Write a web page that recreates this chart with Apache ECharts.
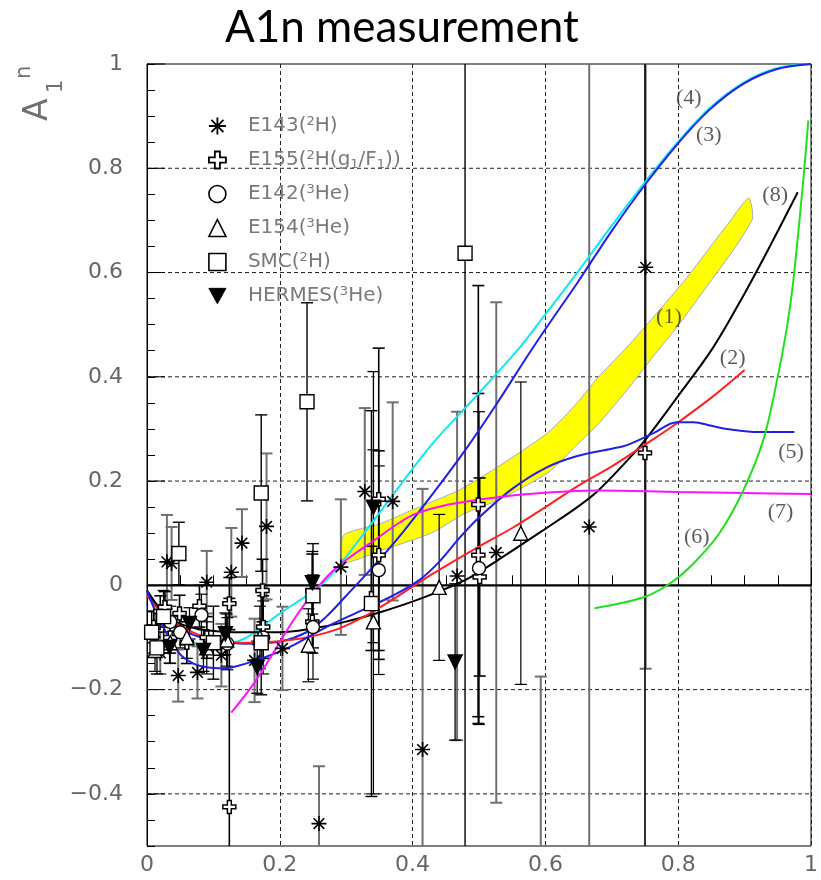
<!DOCTYPE html>
<html><head><meta charset="utf-8">
<script src="https://cdn.jsdelivr.net/npm/echarts@6/dist/echarts.min.js"></script>
<style>html,body{margin:0;padding:0;background:#fff}#c{width:821px;height:880px}</style>
</head><body><div id="c"></div>
<script>
// ---------- data ----------
const yLabelValues = [-0.4, -0.2, 0, 0.2, 0.4, 0.6, 0.8, 1];
const yGridValues = [-0.4, -0.2, 0.2, 0.4, 0.6, 0.8];

// [x, A1n, error]
const e143 = [[0.012,-0.09,0.04],[0.02,-0.13,0.04],[0.03,0.045,0.09],[0.037,0.042,0.07],[0.047,-0.173,0.05],[0.076,-0.167,0.05],[0.09,0.006,0.06],[0.112,-0.134,0.06],[0.127,0.025,0.085],[0.143,0.081,0.065],[0.162,-0.144,0.08],[0.18,0.113,0.14],[0.204,-0.121,0.08],[0.259,-0.457,0.11],[0.292,0.035,0.13],[0.328,0.18,0.16],[0.37,0.161,0.19],[0.415,-0.315,0.5],[0.467,0.018,0.315],[0.526,0.063,0.48],[0.593,-0.95,0.775],[0.666,0.112,0.9],[0.751,0.61,0.77]];
const e155 = [[0.01,-0.08,0.03],[0.02,-0.05,0.03],[0.027,-0.042,0.03],[0.035,-0.1,0.03],[0.049,-0.054,0.035],[0.06,-0.11,0.04],[0.079,-0.04,0.04],[0.09,-0.1,0.04],[0.124,-0.035,0.05],[0.124,-0.425,0.4],[0.174,-0.01,0.06],[0.175,-0.08,0.06],[0.249,-0.01,0.07],[0.249,-0.07,0.06],[0.338,-0.025,0.1],[0.349,0.058,0.2],[0.349,0.165,0.29],[0.499,0.155,0.42],[0.499,0.058,0.31],[0.501,0.016,0.19],[0.75,0.254,1.2]];
const e142 = [[0.035,-0.07,0.03],[0.05,-0.09,0.03],[0.082,-0.057,0.04],[0.121,-0.112,0.05],[0.175,-0.1,0.07],[0.25,-0.08,0.1],[0.349,0.029,0.2],[0.5,0.033,0.3]];
const e154 = [[0.012,-0.125,0.04],[0.035,-0.11,0.04],[0.06,-0.1,0.04],[0.09,-0.12,0.05],[0.12,-0.105,0.05],[0.17,-0.1,0.06],[0.243,-0.115,0.07],[0.341,-0.07,0.33],[0.44,-0.004,0.14],[0.563,0.1,0.29]];
const smc = [[0.007,-0.09,0.04],[0.015,-0.12,0.05],[0.025,-0.06,0.05],[0.048,0.061,0.06],[0.1,-0.11,0.07],[0.172,0.177,0.15],[0.172,-0.11,0.1],[0.241,0.352,0.19],[0.25,-0.02,0.1],[0.338,-0.035,0.37],[0.479,0.637,1.2]];
const hermes = [[0.034,-0.119,0.03],[0.064,-0.073,0.03],[0.085,-0.125,0.04],[0.118,-0.093,0.04],[0.166,-0.157,0.05],[0.249,0.005,0.06],[0.341,0.15,0.26],[0.464,-0.147,0.15]];

// model curves [x, A1n]
const band1Upper = [[0.296,0.096],[0.353,0.119],[0.40,0.145],[0.469,0.182],[0.528,0.227],[0.603,0.292],[0.648,0.35],[0.678,0.397],[0.723,0.457],[0.763,0.515],[0.813,0.59],[0.847,0.647],[0.873,0.69],[0.906,0.743]];
const band1Lower = [[0.296,0.044],[0.353,0.067],[0.428,0.10],[0.479,0.138],[0.528,0.163],[0.603,0.215],[0.648,0.27],[0.678,0.307],[0.72,0.37],[0.763,0.44],[0.798,0.495],[0.847,0.58],[0.883,0.643],[0.912,0.704]];
const curve2 = [[0,-0.02],[0.02,-0.05],[0.04,-0.07],[0.065,-0.088],[0.09,-0.1],[0.14,-0.11],[0.19,-0.108],[0.24,-0.1],[0.289,-0.083],[0.33,-0.058],[0.369,-0.028],[0.43,0.022],[0.498,0.073],[0.55,0.11],[0.6,0.15],[0.648,0.19],[0.7,0.228],[0.748,0.268],[0.798,0.311],[0.85,0.36],[0.9,0.413]];
const curve3 = [[0,-0.01],[0.02,-0.05],[0.04,-0.075],[0.07,-0.095],[0.1,-0.106],[0.15,-0.112],[0.2,-0.108],[0.24,-0.09],[0.27,-0.06],[0.3,-0.02],[0.34,0.035],[0.379,0.092],[0.43,0.175],[0.479,0.259],[0.525,0.345],[0.573,0.44],[0.61,0.51],[0.648,0.58],[0.7,0.68],[0.748,0.765],[0.798,0.845],[0.847,0.912],[0.898,0.962],[0.948,0.99],[1.0,1.0]];
const curve4 = [[0,-0.01],[0.02,-0.05],[0.04,-0.08],[0.065,-0.105],[0.09,-0.118],[0.11,-0.118],[0.129,-0.111],[0.15,-0.1],[0.175,-0.078],[0.2,-0.054],[0.24,-0.02],[0.27,0.01],[0.3,0.055],[0.33,0.105],[0.38,0.19],[0.43,0.272],[0.49,0.355],[0.558,0.451],[0.6,0.52],[0.648,0.6],[0.7,0.69],[0.748,0.77],[0.798,0.848],[0.847,0.915],[0.898,0.964],[0.948,0.992],[1.0,1.0]];
const curve5 = [[0,-0.01],[0.019,-0.067],[0.049,-0.131],[0.07,-0.15],[0.09,-0.157],[0.11,-0.159],[0.129,-0.157],[0.164,-0.144],[0.214,-0.119],[0.27,-0.08],[0.32,-0.05],[0.37,-0.02],[0.41,0.01],[0.44,0.045],[0.47,0.09],[0.5,0.13],[0.55,0.185],[0.6,0.225],[0.648,0.248],[0.7,0.262],[0.723,0.269],[0.763,0.292],[0.798,0.313],[0.823,0.313],[0.85,0.306],[0.873,0.3],[0.922,0.294],[0.975,0.294]];
const curve6 = [[0.674,-0.044],[0.748,-0.023],[0.788,0.004],[0.823,0.042],[0.862,0.1],[0.898,0.182],[0.928,0.278],[0.948,0.388],[0.963,0.489],[0.973,0.58],[0.988,0.772],[0.996,0.892]];
const curve7 = [[0.127,-0.244],[0.16,-0.19],[0.19,-0.13],[0.22,-0.068],[0.25,-0.015],[0.28,0.028],[0.31,0.058],[0.344,0.088],[0.38,0.12],[0.404,0.137],[0.454,0.155],[0.528,0.169],[0.603,0.178],[0.678,0.182],[0.8,0.179],[0.9,0.177],[1.0,0.175]];
const curve8 = [[0,-0.01],[0.02,-0.045],[0.039,-0.067],[0.065,-0.08],[0.09,-0.086],[0.14,-0.09],[0.2,-0.09],[0.249,-0.083],[0.289,-0.073],[0.35,-0.052],[0.413,-0.025],[0.479,0.01],[0.528,0.048],[0.603,0.111],[0.648,0.15],[0.678,0.18],[0.72,0.235],[0.748,0.275],[0.798,0.36],[0.853,0.457],[0.9,0.56],[0.94,0.655],[0.98,0.754]];
const curveLabels = [[0.816,0.935,'(4)'],[0.846,0.864,'(3)'],[0.946,0.749,'(8)'],[0.786,0.514,'(1)'],[0.882,0.436,'(2)'],[0.97,0.255,'(5)'],[0.954,0.14,'(7)'],[0.828,0.092,'(6)']];

// ---------- helpers ----------
const SYM = {
  star: 'path://M10,0L10,20M0,10L20,10M2.9,2.9L17.1,17.1M2.9,17.1L17.1,2.9',
  cross: 'path://M7,0H13V7H20V13H13V20H7V13H0V7H7Z',
  down: 'path://M0,0L20,0L10,18Z'
};
function barSeries(rows, color, width) {
  return {
    type: 'custom', silent: true, clip: true, z: 3,
    data: rows.map(r => [r[0], r[1], r[2]]),
    encode: { x: 0, y: 1 },
    renderItem(params, api) {
      const x = api.value(0), y = api.value(1), e = api.value(2);
      const t = api.coord([x, y + e]), b = api.coord([x, y - e]);
      const c = 6, st = { stroke: color, lineWidth: width };
      return { type: 'group', children: [
        { type: 'line', shape: { x1: t[0], y1: t[1], x2: b[0], y2: b[1] }, style: st },
        { type: 'line', shape: { x1: t[0] - c, y1: t[1], x2: t[0] + c, y2: t[1] }, style: st },
        { type: 'line', shape: { x1: b[0] - c, y1: b[1], x2: b[0] + c, y2: b[1] }, style: st }
      ]};
    }
  };
}
function pointSeries(name, rows, symbol, size, fill, bw) {
  return {
    name, type: 'scatter', z: 6, symbol, symbolSize: size, clip: true,
    data: rows.map(r => [r[0], r[1]]),
    itemStyle: { color: fill, borderColor: '#000', borderWidth: bw || 1.4, opacity: 1 },
    emphasis: { disabled: true }
  };
}
function curve(data, color, width) {
  return { type: 'line', data, smooth: 0.35, showSymbol: false, symbol: 'none', z: 5, silent: true,
    lineStyle: { color, width: width || 2 } };
}
function hLines(values, style, z) {
  return { type: 'custom', silent: true, z, data: values.map(v => [0, v]), encode: { x: 0, y: 1 },
    renderItem(p, api) {
      const v = api.value(1), a = api.coord([0, v]), b = api.coord([1, v]);
      return { type: 'line', shape: { x1: a[0], y1: a[1], x2: b[0], y2: b[1] }, style };
    } };
}
const fmtNum = v => { const r = Math.round(v * 100) / 100; return r < 0 ? '\u2212' + (-r) : String(r); };

const legendText = {
  'E143': 'E143({s|2}H)',
  'E155': 'E155({s|2}H(g{b|1}/F{b|1}))',
  'E142': 'E142({s|3}He)',
  'E154': 'E154({s|3}He)',
  'SMC': 'SMC({s|2}H)',
  'HERMES': 'HERMES({s|3}He)'
};

const chart = echarts.init(document.getElementById('c'), null, { renderer: 'canvas' });
chart.setOption({
  animation: false,
  backgroundColor: '#fff',
  title: { text: 'A1n measurement', left: 220, top: 1,
    textStyle: { fontFamily: 'Lato', fontSize: 44, fontWeight: 'normal', color: '#000' } },
  grid: { left: 147, right: 6, top: 64, bottom: 34, show: true, borderColor: '#000', borderWidth: 1, backgroundColor: 'transparent' },
  xAxis: {
    type: 'value', min: 0, max: 1, interval: 0.2,
    axisLine: { lineStyle: { color: '#000', width: 1 } },
    axisTick: { inside: true, length: 18, lineStyle: { color: '#000' } },
    minorTick: { show: true, splitNumber: 4, length: 10, lineStyle: { color: '#000' } },
    splitLine: { show: true, lineStyle: { color: '#222', type: [4, 3], width: 1 } },
    axisLabel: { margin: 8, color: '#666', fontSize: 22, fontFamily: 'DejaVu Sans', formatter: fmtNum }
  },
  yAxis: {
    type: 'value', min: -0.5, max: 1, interval: 0.05,
    axisLine: { show: true, lineStyle: { color: '#000', width: 1 } },
    axisTick: { show: true, inside: true, length: 8, lineStyle: { color: '#000' } },
    splitLine: { show: false },
    axisLabel: { margin: 24, color: '#666', fontSize: 22, fontFamily: 'DejaVu Sans',
      formatter: v => { const r = Math.round(v * 100) / 100; return Math.abs(r * 5 - Math.round(r * 5)) < 1e-6 ? fmtNum(r) : ''; } }
  },
  legend: {
    orient: 'vertical', left: 203, top: 110, itemWidth: 17, itemHeight: 17, itemGap: 12,
    selectedMode: false,
    formatter: n => legendText[n],
    textStyle: { color: '#7a7a7a', fontSize: 20, fontFamily: 'DejaVu Sans', lineHeight: 22, padding: [0, 0, 0, 17],
      rich: {
        s: { fontSize: 13, color: '#7a7a7a', fontFamily: 'DejaVu Sans', lineHeight: 13, verticalAlign: 'top' },
        b: { fontSize: 13, color: '#7a7a7a', fontFamily: 'DejaVu Sans', lineHeight: 13, verticalAlign: 'bottom' }
      } },
    data: [
      { name: 'E143', icon: SYM.star, itemStyle: { color: 'transparent', borderColor: '#000', borderWidth: 1.8 } },
      { name: 'E155', icon: SYM.cross, itemStyle: { color: '#fff', borderColor: '#000', borderWidth: 1.8 } },
      { name: 'E142', icon: 'circle', itemStyle: { color: '#fff', borderColor: '#000', borderWidth: 1.6 } },
      { name: 'E154', icon: 'triangle', itemStyle: { color: '#fff', borderColor: '#000', borderWidth: 1.6 } },
      { name: 'SMC', icon: 'rect', itemStyle: { color: '#fff', borderColor: '#000', borderWidth: 1.6 } },
      { name: 'HERMES', icon: SYM.down, itemStyle: { color: '#000', borderColor: '#000', borderWidth: 1 } }
    ]
  },
  graphic: [
    { type: 'text', x: 55, y: 121, rotation: Math.PI / 2, style: { text: 'A', fontSize: 33, fontFamily: 'DejaVu Sans', fill: '#707070', align: 'left', verticalAlign: 'bottom' } },
    { type: 'text', x: 57, y: 93, rotation: Math.PI / 2, style: { text: '1', fontSize: 21, fontFamily: 'DejaVu Sans', fill: '#707070', align: 'left', verticalAlign: 'middle' } },
    { type: 'text', x: 25, y: 79, rotation: Math.PI / 2, style: { text: 'n', fontSize: 21, fontFamily: 'DejaVu Sans', fill: '#707070', align: 'left', verticalAlign: 'middle' } }
  ],
  series: [
    hLines(yGridValues, { stroke: '#222', lineWidth: 1, lineDash: [4, 3] }, 1),
    { type: 'custom', silent: true, z: 2, clip: true, data: [[0.5, 0]], encode: { x: 0, y: 1 },
      renderItem(p, api) {
        const pts = band1Upper.concat(band1Lower.slice().reverse()).map(d => api.coord(d));
        return { type: 'polygon', shape: { points: pts, smooth: 0.2 }, style: { fill: '#ffff00', stroke: '#a8a8c8', lineWidth: 1 } };
      } },
    barSeries(e143, '#707070', 2),
    barSeries(e155, '#000', 1.6),
    barSeries(e142, '#000', 1.2),
    barSeries(e154, '#000', 1.2),
    barSeries(smc, '#000', 1.4),
    barSeries(hermes, '#000', 1.3),
    curve(curve4, '#10e8f0'),
    curve(curve3, '#2020e8'),
    curve(curve8, '#000'),
    curve(curve2, '#ff2020'),
    curve(curve5, '#2020e8'),
    curve(curve7, '#ff10ff'),
    curve(curve6, '#20e020'),
    hLines([0], { stroke: '#000', lineWidth: 2.4 }, 4),
    { type: 'custom', silent: true, z: 4, data: yLabelValues.map(v => [0, v]), encode: { x: 0, y: 1 },
      renderItem(p, api) { const a = api.coord([0, api.value(1)]);
        return { type: 'line', shape: { x1: a[0], y1: a[1], x2: a[0] + 18, y2: a[1] }, style: { stroke: '#000', lineWidth: 1 } }; } },
    pointSeries('E143', e143, SYM.star, 15, 'transparent', 1.6),
    pointSeries('E155', e155, SYM.cross, 13, '#fff', 1.5),
    pointSeries('E142', e142, 'circle', 13, '#fff'),
    pointSeries('E154', e154, 'triangle', 14, '#fff'),
    pointSeries('SMC', smc, 'rect', 14, '#fff'),
    pointSeries('HERMES', hermes, SYM.down, 14, '#000'),
    { type: 'scatter', silent: true, z: 7, symbolSize: 0, data: curveLabels,
      label: { show: true, position: 'inside', formatter: p => p.data[2], color: '#333', fontSize: 22, fontFamily: 'Liberation Serif' } }
  ]
});
</script></body></html>
